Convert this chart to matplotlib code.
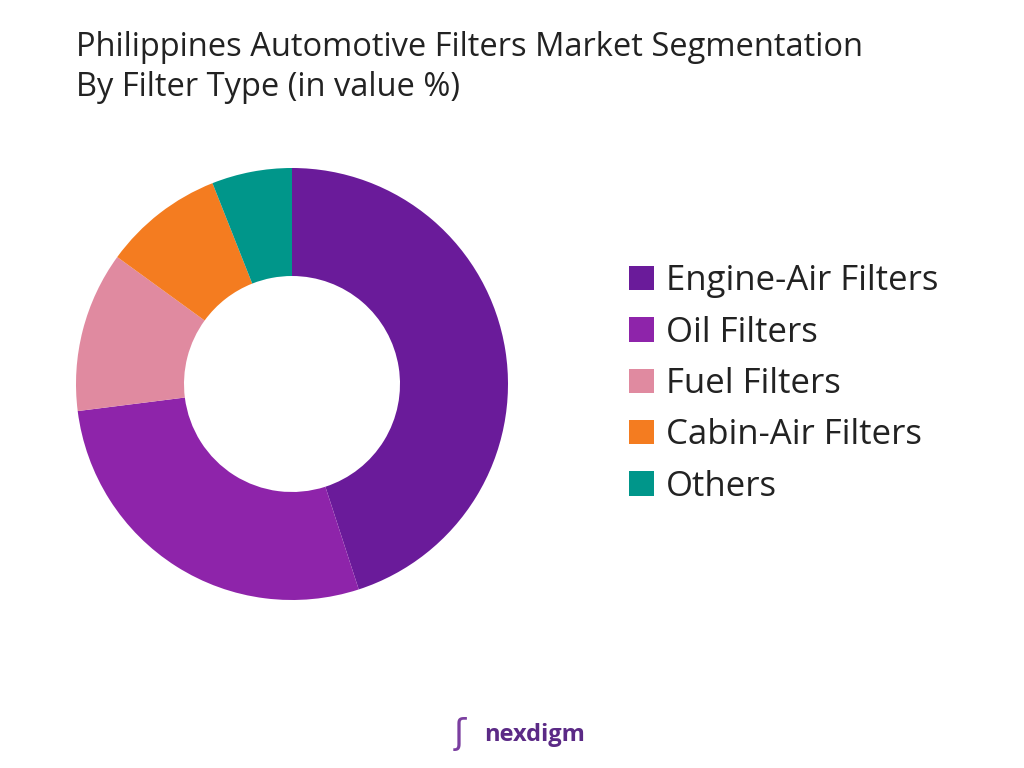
import matplotlib
matplotlib.use("Agg")
import matplotlib.pyplot as plt
from matplotlib.patches import Patch

labels = ["Engine-Air Filters", "Oil Filters", "Fuel Filters", "Cabin-Air Filters", "Others"]
values = [45, 28, 12, 9, 6]
colors = ["#6A1B9A", "#8E24AA", "#E08AA0", "#F47C20", "#00968A"]

plt.rcParams['font.family'] = ['Open Sans', 'DejaVu Sans']
fig = plt.figure(figsize=(10.24, 7.68), dpi=100)

ax = fig.add_axes([76 / 1024, 1 - 600 / 768, 432 / 1024, 432 / 768])
ax.pie(values, colors=colors, startangle=90, counterclock=False,
       wedgeprops=dict(width=0.5, linewidth=0))
ax.set_xlim(-1, 1)
ax.set_ylim(-1, 1)
ax.set_aspect('equal')

fig.text(76 / 1024, 1 - 47 / 768, "Philippines Automotive Filters Market Segmentation",
         fontsize=23.5, color="#222222", va='center')
fig.text(76 / 1024, 1 - 88 / 768, "By Filter Type (in value %)",
         fontsize=23.5, color="#222222", va='center')

handles = [Patch(facecolor=c, edgecolor='none') for c in colors]
fig.legend(handles, labels, loc='center left', bbox_to_anchor=(598 / 1024, 1 - 384 / 768),
           frameon=False, fontsize=25, handlelength=0.7, handleheight=0.7,
           labelspacing=0.5, handletextpad=0.35, labelcolor="#222222")

fig.text(535 / 1024, 1 - 735 / 768, "nexdigm", fontsize=17, fontweight='bold',
         color="#5B2A86", ha='center', va='center')
fig.text(460 / 1024, 1 - 735 / 768, "ʃ", fontsize=26, color="#7B3FA0",
         ha='center', va='center')

fig.savefig("out.png", dpi=100)
